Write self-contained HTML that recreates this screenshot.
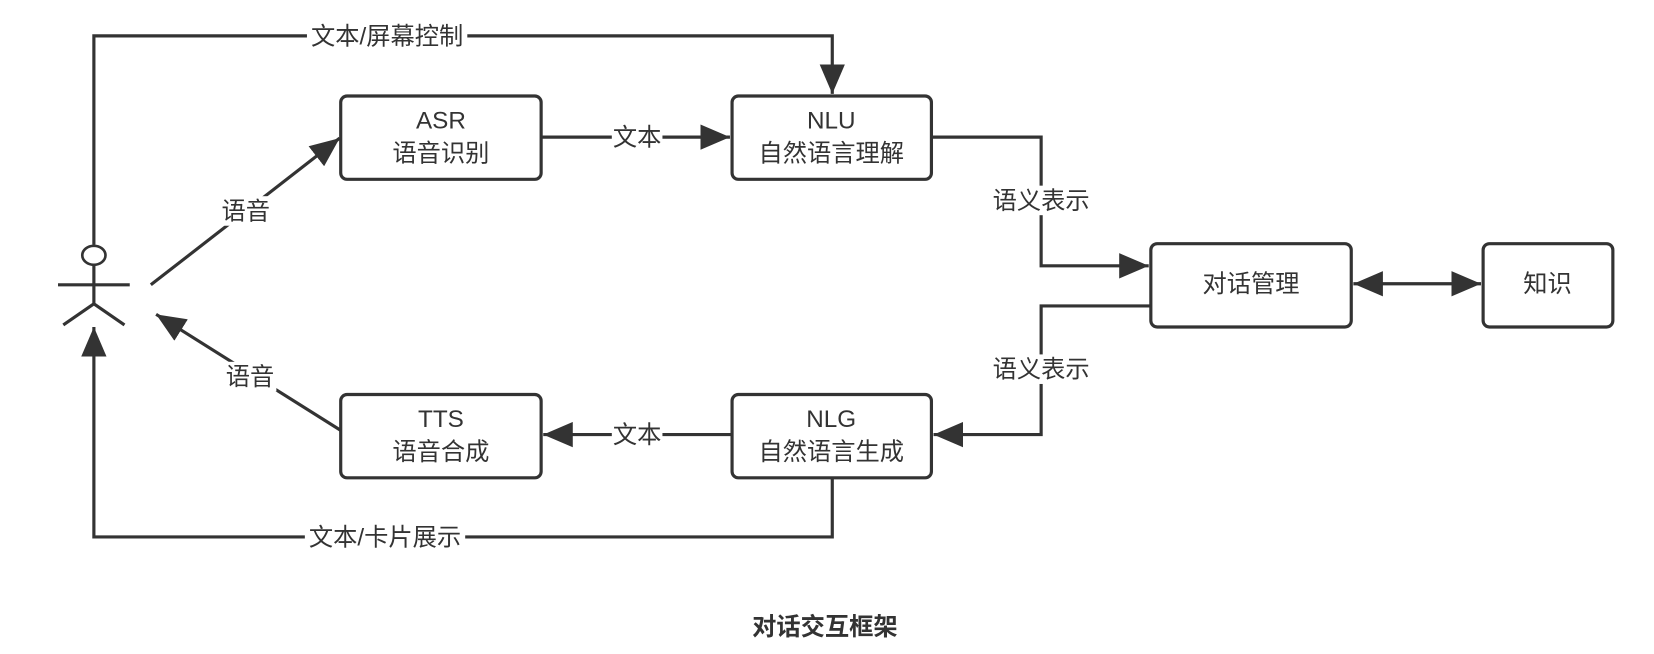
<!DOCTYPE html>
<html><head><meta charset="utf-8"><style>
html,body{margin:0;padding:0;background:#fff;}
svg{display:block;}
text{font-family:"Liberation Sans","Noto Sans CJK SC",sans-serif;fill:#333;}
</style></head><body>
<svg width="1654" height="654" viewBox="0 0 1568 620" preserveAspectRatio="none" xmlns="http://www.w3.org/2000/svg">
<defs>
<marker id="b" viewBox="0 0 10 10" refX="10" refY="5" markerWidth="28" markerHeight="24" markerUnits="userSpaceOnUse" orient="auto-start-reverse" preserveAspectRatio="none">
<path d="M0,0 L10,5 L0,10 z" fill="#333"/></marker>
</defs>
<g fill="none" stroke="#333" stroke-width="3">
<ellipse cx="89" cy="242" rx="11" ry="9" stroke-width="2.5"/>
<line x1="55" y1="270" x2="123" y2="270"/>
<line x1="89" y1="251" x2="89" y2="288"/>
<polyline points="60,308 89,288 118,308"/>
<rect x="323" y="91" width="190" height="79" rx="6"/>
<rect x="694" y="91" width="189" height="79" rx="6"/>
<rect x="323" y="374" width="190" height="79" rx="6"/>
<rect x="694" y="374" width="189" height="79" rx="6"/>
<rect x="1091" y="231" width="190" height="79" rx="6"/>
<rect x="1406" y="231" width="123" height="79" rx="6"/>
<polyline points="89,232 89,34 789,34 789,89" marker-end="url(#b)"/>
<line x1="513" y1="130" x2="692" y2="130" marker-end="url(#b)"/>
<line x1="143" y1="270" x2="322" y2="131" marker-end="url(#b)"/>
<line x1="323" y1="408" x2="148" y2="298" marker-end="url(#b)"/>
<polyline points="883,130 987,130 987,252 1089,252" marker-end="url(#b)"/>
<polyline points="1091,290 987,290 987,412 885,412" marker-end="url(#b)"/>
<line x1="694" y1="412" x2="515" y2="412" marker-end="url(#b)"/>
<polyline points="789,453 789,509 89,509 89,310" marker-end="url(#b)"/>
<line x1="1283" y1="269" x2="1404" y2="269" marker-start="url(#b)" marker-end="url(#b)"/>
</g>
<g fill="#fff">
<rect x="291" y="20" width="152" height="28"/>
<rect x="580" y="116" width="48" height="28"/>
<rect x="208" y="186" width="50" height="28"/>
<rect x="212" y="343" width="50" height="28"/>
<rect x="938" y="176" width="98" height="28"/>
<rect x="938" y="336" width="98" height="28"/>
<rect x="580" y="398" width="48" height="28"/>
<rect x="289" y="495" width="152" height="28"/>
</g>
<g font-size="23" text-anchor="middle">
<text x="367" y="42">文本/屏幕控制</text>
<text x="604" y="138">文本</text>
<text x="233" y="208">语音</text>
<text x="237" y="365">语音</text>
<text x="987" y="198">语义表示</text>
<text x="987" y="358">语义表示</text>
<text x="604" y="420">文本</text>
<text x="365" y="517">文本/卡片展示</text>
<text x="418" y="122">ASR</text>
<text x="418" y="153">语音识别</text>
<text x="788" y="122">NLU</text>
<text x="788" y="153">自然语言理解</text>
<text x="418" y="405">TTS</text>
<text x="418" y="436">语音合成</text>
<text x="788" y="405">NLG</text>
<text x="788" y="436">自然语言生成</text>
<text x="1186" y="277">对话管理</text>
<text x="1467" y="277">知识</text>
<text x="782" y="602" font-weight="bold">对话交互框架</text>
</g>
</svg>
</body></html>
